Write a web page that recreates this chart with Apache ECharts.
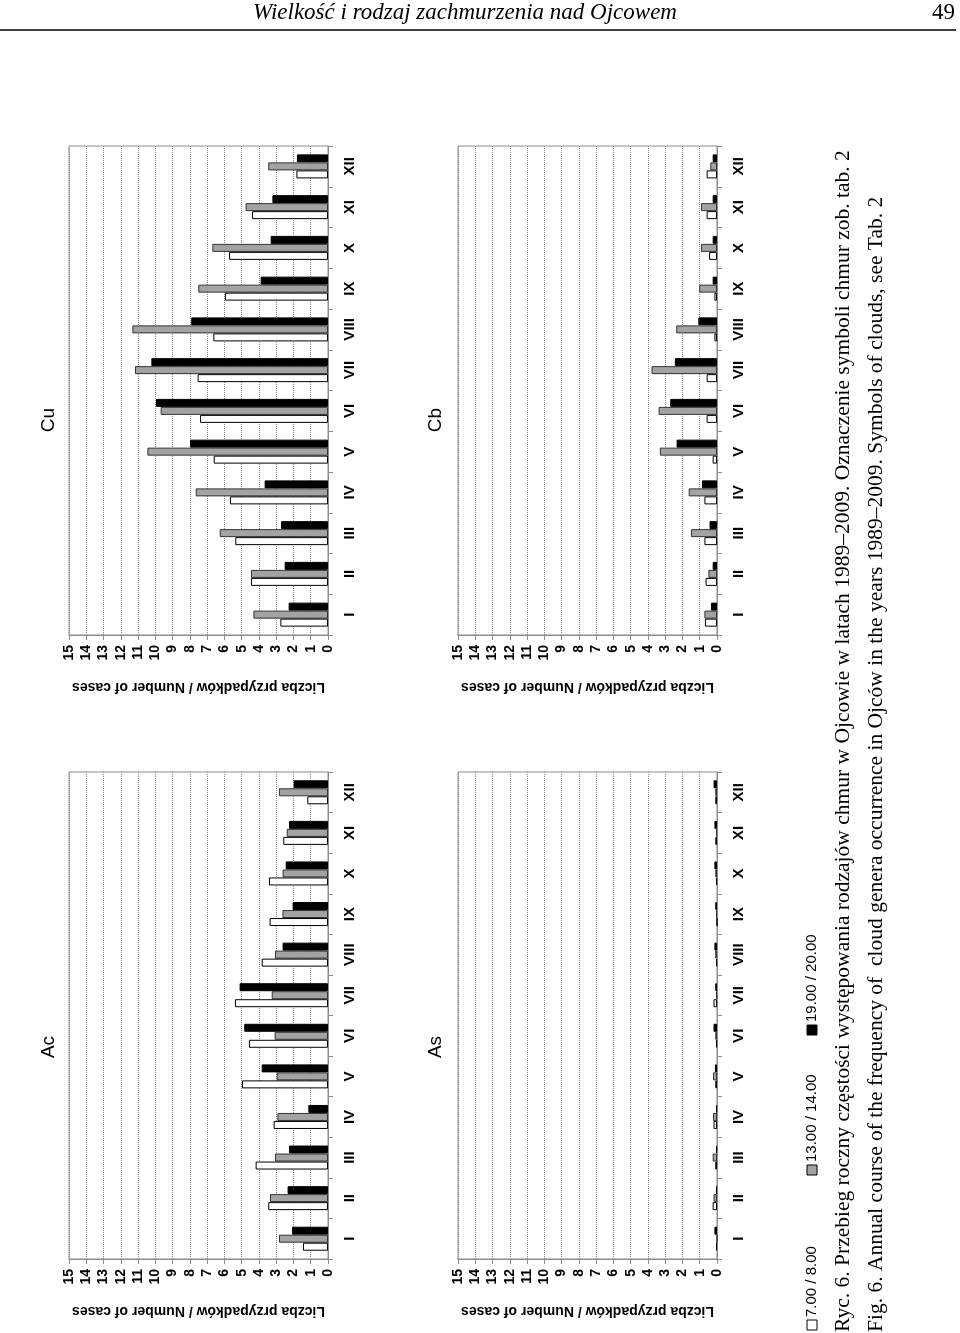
<!DOCTYPE html>
<html><head><meta charset="utf-8">
<script src="https://cdn.jsdelivr.net/npm/echarts@6/dist/echarts.min.js"></script>
<style>html,body{margin:0;padding:0;background:#fff}#c{width:960px;height:1333px}</style>
</head><body><div id="c"></div><script>
// ---- data ----
const months = ['I','II','III','IV','V','VI','VII','VIII','IX','X','XI','XII'];
const valueMin = 0, valueMax = 15, valueStep = 1;
const seriesNames = ['7.00 / 8.00', '13.00 / 14.00', '19.00 / 20.00'];
const panelTitles = ['Ac', 'As', 'Cu', 'Cb'];
const axisName = 'Liczba przypadków / Number of cases';
const headerTitle = 'Wielkość i rodzaj zachmurzenia nad Ojcowem';
const pageNumber = '49';
const captionPL = 'Ryc. 6. Przebieg roczny częstości występowania rodzajów chmur w Ojcowie w latach 1989–2009. Oznaczenie symboli chmur zob. tab. 2';
const captionEN = 'Fig. 6. Annual course of the frequency of  cloud genera occurrence in Ojców in the years 1989–2009. Symbols of clouds, see Tab. 2';

const ac_0700 = [1.45, 3.46, 4.19, 3.15, 4.98, 4.58, 5.39, 3.84, 3.38, 3.42, 2.59, 1.20];
const ac_1300 = [2.84, 3.36, 3.07, 2.93, 2.97, 3.09, 3.26, 3.07, 2.64, 2.63, 2.39, 2.84];
const ac_1900 = [2.08, 2.34, 2.26, 1.14, 3.84, 4.85, 5.12, 2.63, 2.05, 2.45, 2.26, 1.99];

const as_0700 = [0.05, 0.25, 0.10, 0.20, 0.10, 0.05, 0.20, 0.05, 0.00, 0.05, 0.10, 0.10];
const as_1300 = [0.00, 0.20, 0.25, 0.23, 0.23, 0.10, 0.05, 0.10, 0.05, 0.10, 0.05, 0.10];
const as_1900 = [0.15, 0.05, 0.05, 0.05, 0.12, 0.20, 0.10, 0.15, 0.10, 0.15, 0.15, 0.20];

const cu_0700 = [2.76, 4.46, 5.37, 5.68, 6.62, 7.41, 7.55, 6.64, 5.97, 5.73, 4.40, 1.83];
const cu_1300 = [4.32, 4.46, 6.27, 7.66, 10.46, 9.69, 11.18, 11.33, 7.51, 6.70, 4.77, 3.46];
const cu_1900 = [2.28, 2.51, 2.72, 3.67, 7.99, 9.96, 10.23, 7.92, 3.90, 3.32, 3.22, 1.80];

const cb_0700 = [0.70, 0.66, 0.73, 0.73, 0.25, 0.60, 0.60, 0.15, 0.15, 0.46, 0.60, 0.60];
const cb_1300 = [0.73, 0.50, 1.51, 1.64, 3.31, 3.38, 3.79, 2.36, 1.03, 0.93, 0.93, 0.39];
const cb_1900 = [0.35, 0.25, 0.43, 0.87, 2.34, 2.71, 2.44, 1.08, 0.25, 0.25, 0.25, 0.25];

// ---- layout / styles ----
const panelData = [[ac_0700, ac_1300, ac_1900], [as_0700, as_1300, as_1900], [cu_0700, cu_1300, cu_1900], [cb_0700, cb_1300, cb_1900]];
const grids = [
  {left: 69, top: 772, width: 259, height: 487},
  {left: 458, top: 772, width: 259, height: 487},
  {left: 69, top: 146, width: 259, height: 489},
  {left: 458, top: 146, width: 259, height: 489}
];
const titlePos = [[49, 1047], [436, 1047], [49, 420], [436, 420]];
const barStyles = [
  {color: '#ffffff', borderColor: '#000', borderWidth: 1},
  {color: '#a3a3a3', borderColor: '#333', borderWidth: 1},
  {color: '#000000', borderColor: '#000', borderWidth: 1}
];
const sans = 'Liberation Sans, Arial, sans-serif';
const serif = 'Liberation Serif, Times New Roman, serif';

const option = {
  animation: false,
  backgroundColor: '#fff',
  grid: grids.map(g => Object.assign({show: true, borderColor: '#8c8c8c', borderWidth: 1, backgroundColor: '#fff'}, g)),
  xAxis: grids.map((g, i) => ({
    type: 'value', gridIndex: i, inverse: true, min: valueMin, max: valueMax, interval: valueStep,
    position: 'bottom',
    axisLine: {show: true, lineStyle: {color: '#8c8c8c'}},
    axisTick: {show: true, length: 5, lineStyle: {color: '#8c8c8c'}},
    splitLine: {show: true, lineStyle: {color: '#8a8a8a', type: 'dotted', width: 1}},
    axisLabel: {rotate: 90, margin: 10, color: '#000', fontWeight: 'bold', fontSize: 14, fontFamily: sans},
    name: axisName, nameLocation: 'middle', nameRotate: 180, nameGap: 45,
    nameTextStyle: {color: '#000', fontSize: 14, fontWeight: 'bold', fontFamily: sans}
  })),
  yAxis: grids.map((g, i) => ({
    type: 'category', gridIndex: i, data: months, position: 'right',
    axisLine: {show: true, lineStyle: {color: '#8c8c8c'}},
    axisTick: {show: true, length: 5, lineStyle: {color: '#8c8c8c'}},
    axisLabel: {rotate: 90, margin: 14, color: '#000', fontWeight: 'bold', fontSize: 15, fontFamily: sans},
    splitLine: {show: false}
  })),
  series: [],
  graphic: []
};

panelData.forEach((sets, p) => {
  // pushed in reverse so that the first series (7.00) sits at the bottom of each group
  for (let s = sets.length - 1; s >= 0; s--) {
    option.series.push({
      type: 'bar', name: seriesNames[s], xAxisIndex: p, yAxisIndex: p,
      data: sets[s], barWidth: 8, barGap: '0%',
      itemStyle: barStyles[s]
    });
  }
  option.graphic.push({
    type: 'text', x: titlePos[p][0], y: titlePos[p][1], rotation: Math.PI / 2,
    style: {text: panelTitles[p], fontSize: 19, fontFamily: sans, fill: '#000',
      align: 'center', verticalAlign: 'middle', textAlign: 'center', textVerticalAlign: 'middle'}
  });
});

// header
option.graphic.push(
  {type: 'text', x: 465, y: 13, style: {text: headerTitle, fontSize: 23, fontStyle: 'italic', fontFamily: serif, fill: '#000',
    align: 'center', verticalAlign: 'middle', textAlign: 'center', textVerticalAlign: 'middle'}},
  {type: 'text', x: 955, y: 13, style: {text: pageNumber, fontSize: 23, fontFamily: serif, fill: '#000',
    align: 'right', verticalAlign: 'middle', textAlign: 'right', textVerticalAlign: 'middle'}},
  {type: 'line', shape: {x1: 0, y1: 30, x2: 956, y2: 30}, style: {stroke: '#000', lineWidth: 1.5}}
);

// legend (rotated)
const legendOffsets = [0, 155, 295];
const legendChildren = [];
seriesNames.forEach((n, i) => {
  legendChildren.push({type: 'rect', shape: {x: legendOffsets[i], y: -5, width: 10, height: 10},
    style: {fill: barStyles[i].color, stroke: '#000', lineWidth: 1}});
  legendChildren.push({type: 'text', x: legendOffsets[i] + 13, y: 0,
    style: {text: n, fontSize: 15, fontFamily: sans, fill: '#000', align: 'left', verticalAlign: 'middle', textAlign: 'left', textVerticalAlign: 'middle'}});
});
option.graphic.push({type: 'group', x: 812, y: 1330, rotation: Math.PI / 2, children: legendChildren});

// captions (rotated)
option.graphic.push(
  {type: 'text', x: 843, y: 1332, rotation: Math.PI / 2, style: {text: captionPL, fontSize: 21.5, fontFamily: serif, fill: '#000',
    align: 'left', verticalAlign: 'middle', textAlign: 'left', textVerticalAlign: 'middle'}},
  {type: 'text', x: 876, y: 1332, rotation: Math.PI / 2, style: {text: captionEN, fontSize: 21.5, fontFamily: serif, fill: '#000',
    align: 'left', verticalAlign: 'middle', textAlign: 'left', textVerticalAlign: 'middle'}}
);

const chart = echarts.init(document.getElementById('c'), null, {renderer: 'canvas'});
chart.setOption(option);
</script></body></html>
